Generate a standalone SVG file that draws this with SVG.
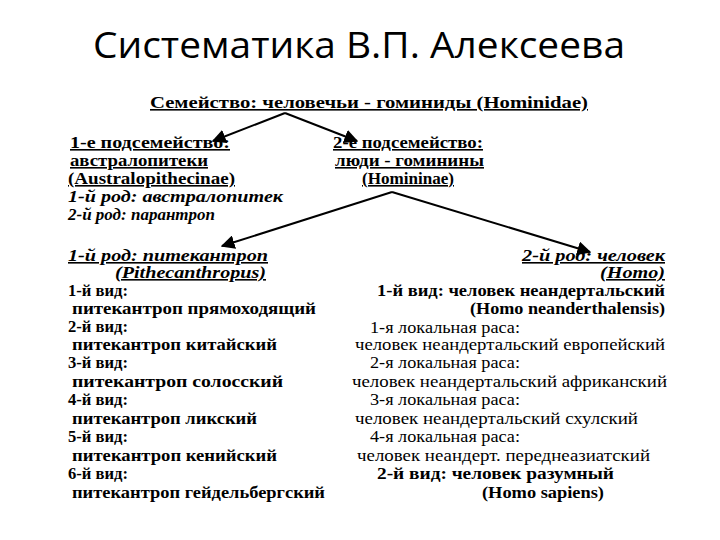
<svg xmlns="http://www.w3.org/2000/svg" width="720" height="540" viewBox="0 0 720 540">
<defs>
<marker id="ah" viewBox="0 0 10 10" refX="9" refY="5" markerWidth="7" markerHeight="7" orient="auto"><path d="M0,0 L10,5 L0,10 z" fill="#000"/></marker>
<style>
text{font-family:"Liberation Serif",serif;font-size:16px;fill:#000}
.b{font-weight:bold}.i{font-style:italic}.u{text-decoration:underline}
.t{font-family:"Open Sans","Liberation Sans",sans-serif;font-size:36px}
line{stroke:#000;stroke-width:2;marker-end:url(#ah)}
</style>
</defs>
<rect width="720" height="540" fill="#fff"/>
<text class="t" x="93" y="58" textLength="532" lengthAdjust="spacingAndGlyphs">Систематика  В.П. Алексеева</text>
<g id="family"><text class="b u" x="150" y="108" textLength="438" lengthAdjust="spacingAndGlyphs">Семейство:  человечьи - гоминиды (Hominidae)</text></g>
<g id="sub1">
<text class="b u" x="70" y="148" textLength="160" lengthAdjust="spacingAndGlyphs">1-е подсемейство:</text>
<text class="b u" x="70" y="166" textLength="138" lengthAdjust="spacingAndGlyphs">австралопитеки</text>
<text class="b u" x="68" y="184" textLength="167" lengthAdjust="spacingAndGlyphs">(Australopithecinae)</text>
<text class="b i" x="68" y="202" textLength="215" lengthAdjust="spacingAndGlyphs">1-й род: австралопитек</text>
<text class="b i" x="68" y="220" textLength="147" lengthAdjust="spacingAndGlyphs">2-й род: парантроп</text>
</g>
<g id="sub2">
<text class="b u" x="333" y="148" textLength="150" lengthAdjust="spacingAndGlyphs">2-е подсемейство:</text>
<text class="b u" x="335" y="166" textLength="149" lengthAdjust="spacingAndGlyphs">люди - гоминины</text>
<text class="b u" x="362" y="184" textLength="92" lengthAdjust="spacingAndGlyphs">(Homininae)</text>
</g>
<g id="pith">
<text class="b i u" x="68" y="261" textLength="200" lengthAdjust="spacingAndGlyphs">1-й род: питекантроп</text>
<text class="b i u" x="115" y="278" textLength="151" lengthAdjust="spacingAndGlyphs">(Pithecanthropus)</text>
<text class="b" x="68" y="296" textLength="60" lengthAdjust="spacingAndGlyphs">1-й вид:</text>
<text class="b" x="72" y="314" textLength="244" lengthAdjust="spacingAndGlyphs">питекантроп прямоходящий</text>
<text class="b" x="68" y="332" textLength="60" lengthAdjust="spacingAndGlyphs">2-й вид:</text>
<text class="b" x="72" y="350" textLength="205" lengthAdjust="spacingAndGlyphs">питекантроп китайский</text>
<text class="b" x="68" y="368" textLength="60" lengthAdjust="spacingAndGlyphs">3-й вид:</text>
<text class="b" x="72" y="387" textLength="211" lengthAdjust="spacingAndGlyphs">питекантроп солосский</text>
<text class="b" x="68" y="405" textLength="60" lengthAdjust="spacingAndGlyphs">4-й вид:</text>
<text class="b" x="72" y="424" textLength="185" lengthAdjust="spacingAndGlyphs">питекантроп ликский</text>
<text class="b" x="68" y="442" textLength="60" lengthAdjust="spacingAndGlyphs">5-й вид:</text>
<text class="b" x="72" y="461" textLength="205" lengthAdjust="spacingAndGlyphs">питекантроп кенийский</text>
<text class="b" x="68" y="479" textLength="60" lengthAdjust="spacingAndGlyphs">6-й вид:</text>
<text class="b" x="72" y="498" textLength="253" lengthAdjust="spacingAndGlyphs">питекантроп гейдельбергский</text>
</g>
<g id="homo">
<text class="b i u" x="522" y="261" textLength="143" lengthAdjust="spacingAndGlyphs">2-й род: человек</text>
<text class="b i u" x="600" y="278" textLength="65" lengthAdjust="spacingAndGlyphs">(Homo)</text>
<text class="b" x="377" y="296" textLength="288" lengthAdjust="spacingAndGlyphs">1-й вид: человек неандертальский</text>
<text class="b" x="470" y="314" textLength="195" lengthAdjust="spacingAndGlyphs">(Homo neanderthalensis)</text>
<text x="370" y="333" textLength="150" lengthAdjust="spacingAndGlyphs">1-я локальная раса:</text>
<text x="355" y="350" textLength="310" lengthAdjust="spacingAndGlyphs">человек неандертальский европейский</text>
<text x="370" y="368" textLength="150" lengthAdjust="spacingAndGlyphs">2-я локальная раса:</text>
<text x="352" y="387" textLength="315" lengthAdjust="spacingAndGlyphs">человек неандертальский африканский</text>
<text x="370" y="405" textLength="150" lengthAdjust="spacingAndGlyphs">3-я локальная раса:</text>
<text x="355" y="424" textLength="283" lengthAdjust="spacingAndGlyphs">человек неандертальский схулский</text>
<text x="370" y="442" textLength="150" lengthAdjust="spacingAndGlyphs">4-я локальная раса:</text>
<text x="357" y="461" textLength="293" lengthAdjust="spacingAndGlyphs">человек неандерт. переднеазиатский</text>
<text class="b" x="377" y="479" textLength="237" lengthAdjust="spacingAndGlyphs">2-й вид: человек разумный</text>
<text class="b" x="482" y="498" textLength="122" lengthAdjust="spacingAndGlyphs">(Homo sapiens)</text>
</g>
<g id="connectors">
<line x1="285" y1="113" x2="213" y2="141"/>
<line x1="285" y1="113" x2="357" y2="141"/>
<line x1="392" y1="192" x2="222" y2="246"/>
<line x1="392" y1="192" x2="590" y2="252"/>
</g>
</svg>
